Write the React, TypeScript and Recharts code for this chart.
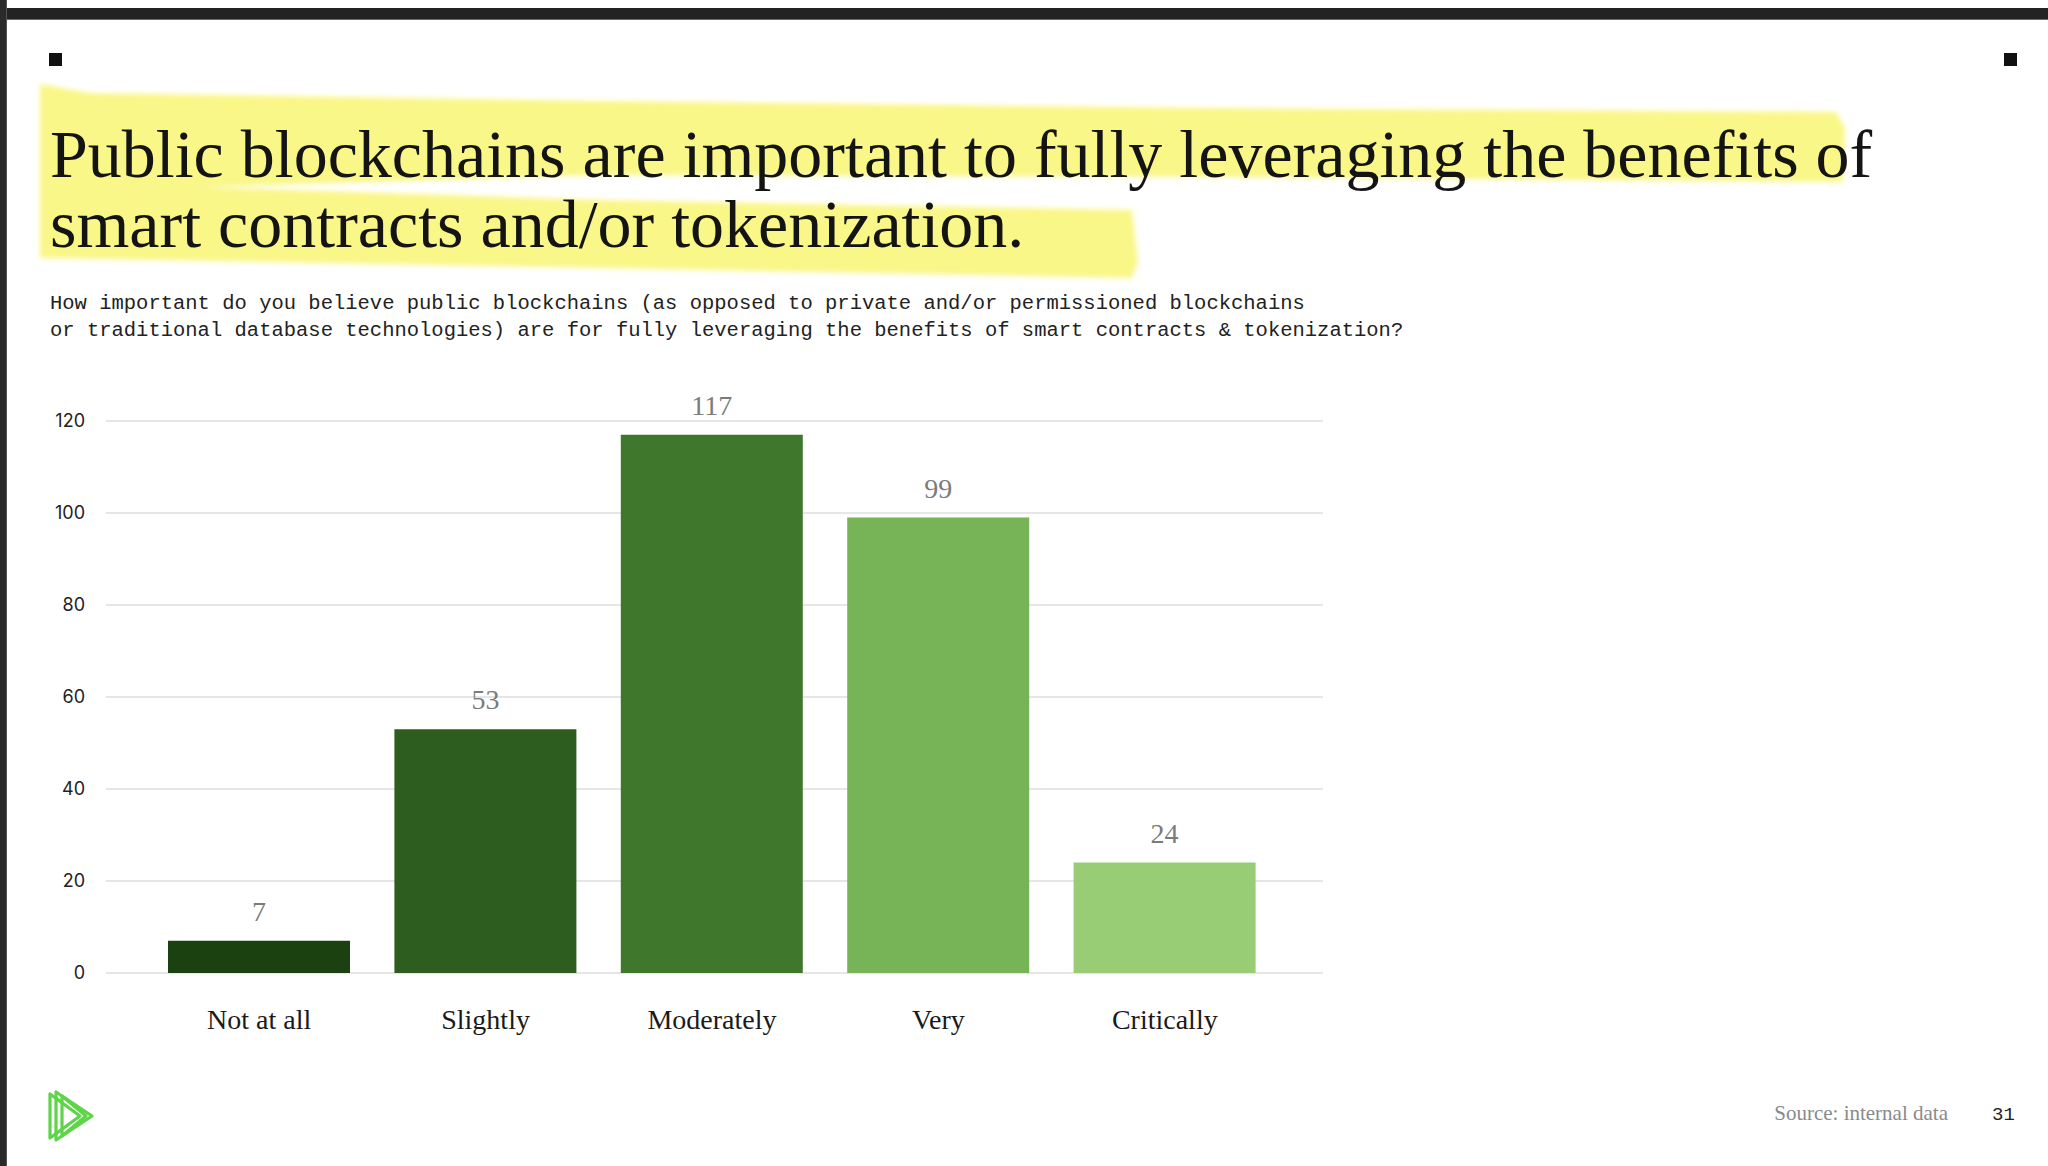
import { BarChart, Bar, XAxis, YAxis, CartesianGrid, Cell, LabelList } from 'recharts';

const categories = ['Not at all', 'Slightly', 'Moderately', 'Very', 'Critically'];
const responses = [7, 53, 117, 99, 24];
const barColors = ['#1b4111', '#2d5e20', '#3f782d', '#76b457', '#98cd75'];
const yTicks = [0, 20, 40, 60, 80, 100, 120];

const chartData = categories.map((category, i) => ({ category, count: responses[i] }));

const serif = '"Liberation Serif", "DejaVu Serif", serif';
const mono = '"Liberation Mono", "DejaVu Sans Mono", monospace';

function Highlight() {
  return (
    <svg width={2048} height={300} style={{ position: 'absolute', left: 0, top: 0 }}>
      <defs>
        <filter id="soft" x="-5%" y="-20%" width="110%" height="140%">
          <feGaussianBlur stdDeviation="2.5" />
        </filter>
      </defs>
      <g fill="#f9f788" filter="url(#soft)">
        <polygon points="40,84 90,93 600,101 1200,108 1836,112 1845,128 1843,182 1200,177 600,175 40,192" />
        <polygon points="40,182 600,200 1132,210 1138,262 1132,278 600,268 40,258" />
      </g>
    </svg>
  );
}

function Logo() {
  return (
    <svg width={60} height={64} style={{ position: 'absolute', left: 42, top: 1084 }}>
      <g fill="none" stroke="#5ed448" strokeWidth={3.2} strokeLinejoin="round">
        <polygon points="8,10 8,54 38,32" />
        <polygon points="14,8 14,56 50,32" />
        <polygon points="20,12 20,52 44,32" />
      </g>
    </svg>
  );
}

export default function App() {
  return (
    <div style={{ position: 'absolute', left: 0, top: 0, width: 2048, height: 1166, background: '#fff', overflow: 'hidden' }}>
      {/* window frame */}
      <div style={{ position: 'absolute', left: 0, top: 8, width: 2048, height: 11, background: '#232323', borderBottom: '1px solid #6a6a6a' }} />
      <div style={{ position: 'absolute', left: 0, top: 0, width: 6, height: 1166, background: '#2a2a2a', borderRight: '1px solid #555' }} />

      <div style={{ position: 'absolute', left: 49, top: 53, width: 13, height: 13, background: '#111' }} />
      <div style={{ position: 'absolute', left: 2004, top: 53, width: 13, height: 13, background: '#111' }} />

      <Highlight />
      <div
        style={{
          position: 'absolute',
          left: 50,
          top: 119,
          fontFamily: serif,
          fontSize: 68,
          lineHeight: '70px',
          color: '#141414',
          whiteSpace: 'nowrap',
        }}
      >
        Public blockchains are important to fully leveraging the benefits of
        <br />
        smart contracts and/or tokenization.
      </div>

      <div
        style={{
          position: 'absolute',
          left: 50,
          top: 290,
          fontFamily: mono,
          fontSize: 20.5,
          lineHeight: '27px',
          color: '#222',
          whiteSpace: 'pre',
        }}
      >
        {'How important do you believe public blockchains (as opposed to private and/or permissioned blockchains\nor traditional database technologies) are for fully leveraging the benefits of smart contracts & tokenization?'}
      </div>

      <div style={{ position: 'absolute', left: 0, top: 380 }}>
        <BarChart width={1400} height={700} data={chartData} margin={{ top: 41, right: 77, bottom: 47, left: 46 }}>
          <CartesianGrid vertical={false} stroke="#e6e6e6" strokeWidth={2} />
          <XAxis
            dataKey="category"
            axisLine={false}
            tickLine={false}
            tickSize={0}
            tickMargin={36}
            height={60}
            padding={{ left: 40, right: 45 }}
            tick={{ fontFamily: serif, fontSize: 28, fill: '#1a1a1a' }}
          />
          <YAxis
            domain={[0, 120]}
            ticks={yTicks}
            axisLine={false}
            tickLine={false}
            tickSize={0}
            tickMargin={21}
            width={60}
            tick={{ fontFamily: 'Inter, "Liberation Sans", sans-serif', fontSize: 18, fill: '#222' }}
          />
          <Bar dataKey="count" barSize={182} isAnimationActive={false}>
            {chartData.map((d, i) => (
              <Cell key={d.category} fill={barColors[i]} />
            ))}
            <LabelList dataKey="count" position="top" offset={20} style={{ fontFamily: serif, fontSize: 28, fill: '#7b7b7b' }} />
          </Bar>
        </BarChart>
      </div>

      <Logo />
      <div style={{ position: 'absolute', right: 100, top: 1103, fontFamily: serif, fontSize: 21, lineHeight: '21px', color: '#8a8a8a', whiteSpace: 'nowrap' }}>
        Source: internal data
      </div>
      <div style={{ position: 'absolute', left: 1992, top: 1106, fontFamily: mono, fontSize: 19, lineHeight: '19px', color: '#222' }}>31</div>
    </div>
  );
}
